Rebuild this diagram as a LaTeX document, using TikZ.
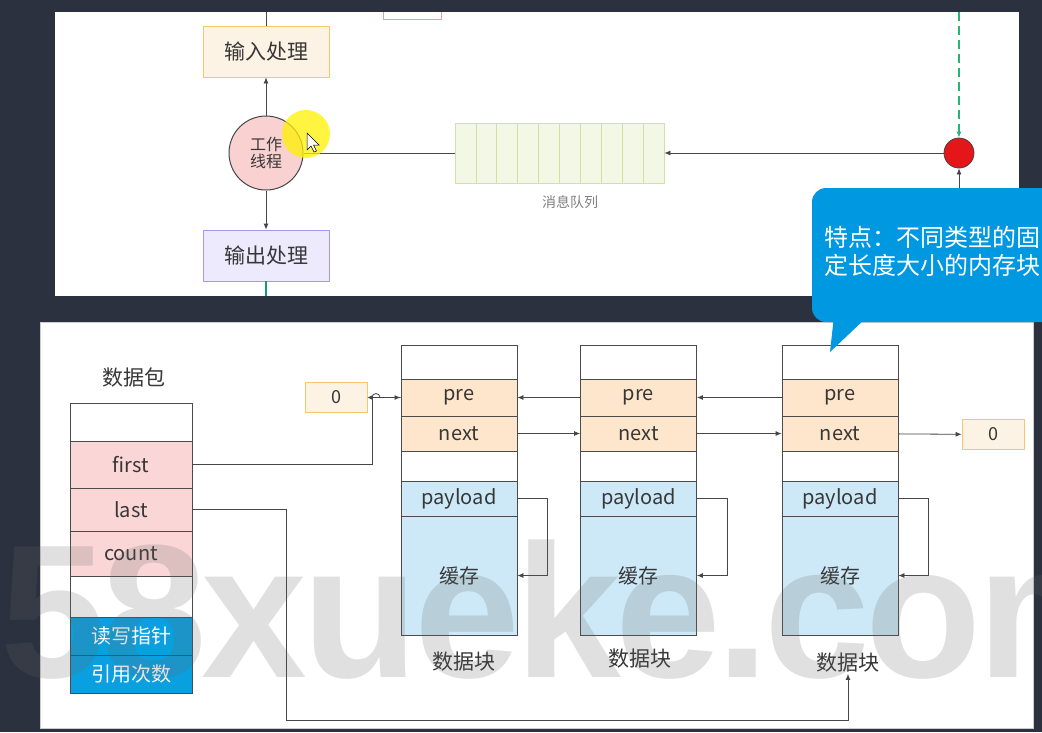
\documentclass[tikz,border=0pt]{standalone}
\usepackage{fontspec}
\newfontfamily\cjk{Noto Sans CJK SC}
\newfontfamily\wmfont[LetterSpace=-2.5]{Liberation Sans}
\usetikzlibrary{arrows.meta}

\definecolor{bgdark}{RGB}{43,49,62}
\definecolor{txt}{RGB}{55,55,55}
\definecolor{linegray}{RGB}{70,70,70}
\definecolor{boxline}{RGB}{75,75,75}
\definecolor{infill}{RGB}{253,243,228}
\definecolor{inborder}{RGB}{246,200,110}
\definecolor{outfill}{RGB}{236,234,252}
\definecolor{outborder}{RGB}{165,150,240}
\definecolor{threadfill}{RGB}{249,209,209}
\definecolor{qfill}{RGB}{243,248,230}
\definecolor{qborder}{RGB}{208,226,160}
\definecolor{signalred}{RGB}{228,22,26}
\definecolor{dashgreen}{RGB}{40,180,120}
\definecolor{tealline}{RGB}{20,150,140}
\definecolor{callblue}{RGB}{0,152,224}
\definecolor{rowpink}{RGB}{251,214,214}
\definecolor{rowblue}{RGB}{10,160,224}
\definecolor{roworange}{RGB}{253,230,204}
\definecolor{bufblue}{RGB}{205,233,247}
\definecolor{stubpink}{RGB}{240,150,165}
\definecolor{markgray}{RGB}{100,100,100}

\tikzset{
  conn/.style={draw=linegray, line width=0.8pt},
  procbox/.style={draw, line width=0.8pt, minimum width=126pt, minimum height=51pt, inner sep=0pt,
    font=\cjk\fontsize{21}{24}\selectfont, text=txt},
  cell/.style={draw=boxline, line width=0.8pt, fill=white, minimum width=116pt, inner sep=0pt,
    font=\cjk\fontsize{20}{22}\selectfont, text=txt},
  pkcell/.style={draw=boxline, line width=0.8pt, fill=white, minimum width=122pt, inner sep=0pt,
    font=\cjk\fontsize{20}{22}\selectfont, text=txt},
  zerobox/.style={draw=inborder, fill=infill, line width=0.8pt, minimum width=62pt, minimum height=30pt,
    inner sep=0pt, font=\cjk\fontsize{18}{20}\selectfont, text=txt},
  title/.style={inner sep=1pt, font=\cjk\fontsize{21}{24}\selectfont, text=txt}
}

\begin{document}
\begin{tikzpicture}[x=1pt, y=-1pt, >={Latex[length=6pt,width=5pt]}]
\useasboundingbox (0,0) rectangle (1042,732);
\clip (0,0) rectangle (1042,732);
\fill[bgdark] (0,0) rectangle (1042,732);
\fill[white] (55,12) rectangle (1019,296);
\filldraw[fill=white, draw=gray!40] (40,322) rectangle (1033,728);

% top panel
\draw[stubpink, line width=0.8pt] (383,12) |- (441,19) -- (441,12);
\node[procbox, draw=inborder, fill=infill] (inproc) at (266,51.5) {输入处理};
\node[circle, draw=linegray, line width=1pt, fill=threadfill, minimum size=74pt, inner sep=0pt, align=center,
  font=\cjk\fontsize{16}{17}\selectfont, text=txt] (worker) at (266,153) {工作\\线程};
\node[procbox, draw=outborder, fill=outfill] (outproc) at (266,255.5) {输出处理};
\coordinate (intop) at (266,12);
\coordinate (outbot) at (266,296);
\draw[conn] (intop) -- (inproc);
\draw[conn, ->] (worker) -- (inproc);
\draw[conn, ->] (worker) -- (outproc);
\draw[tealline, line width=1.2pt] (outproc) -- (outbot);

\foreach \i in {0,...,9}
  \node[draw=qborder, fill=qfill, line width=0.8pt, minimum width=20.9pt, minimum height=60pt, inner sep=0pt]
    (q\i) at (465.45+20.9*\i,153) {};
\node[font=\cjk\fontsize{14}{16}\selectfont, text=gray] (qname) at (570,202) {消息队列};
\draw[conn] (q0.west) -- (worker.east);

\node[circle, draw=linegray, line width=0.8pt, fill=signalred, minimum size=30pt, inner sep=0pt] (signal) at (959,153) {};
\coordinate (sigtop) at (959,12);
\coordinate (sigbot) at (959,200);
\draw[conn, ->] (signal) -- (q9.east);
\draw[dashgreen, line width=1.1pt, dash pattern=on 9pt off 5pt, ->] (sigtop) -- (signal);
\draw[conn, ->] (sigbot) -- (signal);

% cursor highlight
\fill[yellow, opacity=0.75] (306,134) circle (24pt);
\draw[fill=white, line width=0.5pt] (307,133) -- ++(0,17) -- ++(4,-4) -- ++(3,6) -- ++(2.5,-1) -- ++(-3,-6) -- ++(5.5,0) -- cycle;

% bottom panel: packet
\node[title] (pktname) at (134,377) {数据包};
\node[pkcell, minimum height=38pt] (pktop) at (131,422) {};
\node[pkcell, fill=rowpink, minimum height=47pt] (first) at (131,464.5) {first};
\node[pkcell, fill=rowpink, minimum height=43pt] (last) at (131,509.5) {last};
\node[pkcell, fill=rowpink, minimum height=45pt] (count) at (131,553.5) {count};
\node[pkcell, minimum height=41pt] (pkgap) at (131,596.5) {};
\node[pkcell, fill=rowblue, text=white, minimum height=38pt] (rwptr) at (131,636) {读写指针};
\node[pkcell, fill=rowblue, text=white, minimum height=38pt] (refcnt) at (131,674) {引用次数};

% data blocks
\foreach \n/\x in {1/459,2/638.5,3/840} {
  \node[cell, minimum height=34pt] (b\n-top) at (\x,362) {};
  \node[cell, fill=roworange, minimum height=37pt] (b\n-pre) at (\x,397.5) {pre};
  \node[cell, fill=roworange, minimum height=35pt] (b\n-next) at (\x,433.5) {next};
  \node[cell, minimum height=30pt] (b\n-gap) at (\x,466) {};
  \node[cell, fill=bufblue, minimum height=35pt] (b\n-pay) at (\x,498.5) {payload};
  \node[cell, fill=bufblue, minimum height=119pt] (b\n-buf) at (\x,575.5) {缓存};
  \draw[conn, ->] (b\n-pay.east) -- ++(30,0) |- (b\n-buf.east);
}
\node[title] (lab1) at (464,662) {数据块};
\node[title] (lab2) at (640,659) {数据块};
\node[title] (lab3) at (848,663) {数据块};

\node[zerobox] (zeroL) at (336,397.5) {0};
\node[zerobox] (zeroR) at (993,434.5) {0};

\draw[conn, ->] (b2-pre) -- (b1-pre);
\draw[conn, ->] (b1-next) -- (b2-next);
\draw[conn, ->] (b3-pre) -- (b2-pre);
\draw[conn, ->] (b2-next) -- (b3-next);
\draw[conn, ->] (b3-next) -- (zeroR);

\coordinate (firstturn) at (372,397.5);
\coordinate (lastturn) at (286,720);
\draw[conn, line width=1pt, ->] (first.east) -| (firstturn) -- (b1-pre.west);
\draw[conn, ->, >={Latex[length=5pt,width=5pt]}] (b1-pre.west) -- (380,397.5)
  arc[start angle=0, end angle=180, radius=4pt] -- (zeroL.east);
\draw[conn, ->] (last.east) -| (lastturn) -| (lab3.south);

% watermark
\node[anchor=base west, inner sep=0pt, text=markgray, text opacity=0.2,
  font=\wmfont\bfseries\fontsize{190}{190}\selectfont] (mark) at (0,677) {58xueke.com};

% callout
\fill[callblue, rounded corners=14pt] (812,188) rectangle (1070,322);
\fill[callblue] (834,316) -- (868,316) -- (830,352) -- cycle;
\node[anchor=north west, inner sep=0pt, align=left, text=white,
  font=\cjk\fontsize{24}{28}\selectfont] (feature) at (824,226) {特点：不同类型的固\\定长度大小的内存块};
\end{tikzpicture}
\end{document}
